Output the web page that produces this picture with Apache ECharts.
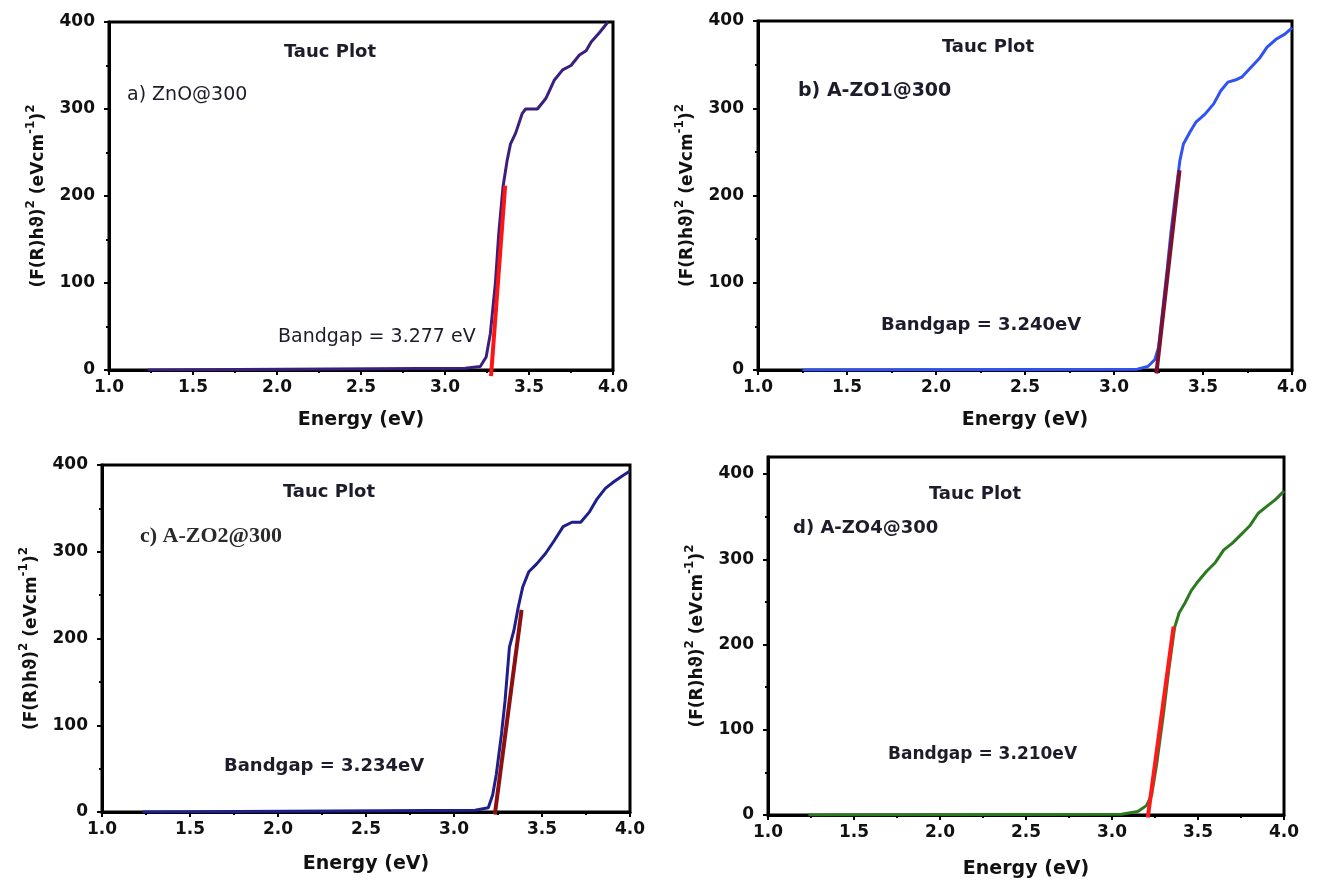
<!DOCTYPE html>
<html>
<head>
<meta charset="utf-8">
<title>Tauc Plots</title>
<script src="https://cdn.jsdelivr.net/npm/echarts@6/dist/echarts.min.js"></script>
<style>
  html, body { margin: 0; padding: 0; background: #fff; }
  #chart { width: 1318px; height: 881px; }
</style>
</head>
<body>
<div id="chart"></div>
<script>
// ---- Data: (F(R)hv)^2 vs photon energy for the four samples ----
const sampleNames = ['a) ZnO@300', 'b) A-ZO1@300', 'c) A-ZO2@300', 'd) A-ZO4@300'];
const bandgaps = [3.277, 3.240, 3.234, 3.210];
const bandgapTexts = ['Bandgap = 3.277 eV', 'Bandgap = 3.240eV', 'Bandgap = 3.234eV', 'Bandgap = 3.210eV'];
const xTicks = [1.0, 1.5, 2.0, 2.5, 3.0, 3.5, 4.0];
const yTicks = [0, 100, 200, 300, 400];

const energyA = [1.23, 3.12, 3.21, 3.245, 3.27, 3.30, 3.32, 3.345, 3.37, 3.39, 3.42, 3.46, 3.48, 3.55, 3.60, 3.65, 3.70, 3.75, 3.80, 3.84, 3.87, 3.92, 3.97];
const taucA   = [0, 2, 4, 15, 42, 100, 157, 210, 241, 260, 272, 295, 300, 300, 312, 333, 345, 350, 362, 367, 377, 388, 400];

const energyB = [1.25, 3.13, 3.19, 3.23, 3.25, 3.27, 3.30, 3.32, 3.345, 3.37, 3.39, 3.43, 3.46, 3.51, 3.56, 3.60, 3.64, 3.69, 3.72, 3.77, 3.82, 3.86, 3.91, 3.96, 4.0];
const taucB   = [0, 1, 4, 12, 26, 62, 118, 158, 200, 240, 259, 274, 284, 293, 305, 320, 330, 333, 336, 347, 358, 370, 379, 385, 392];

const energyC = [1.23, 3.12, 3.195, 3.22, 3.24, 3.27, 3.29, 3.315, 3.34, 3.365, 3.39, 3.425, 3.47, 3.52, 3.57, 3.62, 3.67, 3.72, 3.77, 3.81, 3.86, 3.91, 3.96, 4.0];
const taucC   = [0, 2, 5, 20, 43, 90, 128, 190, 209, 236, 259, 277, 286, 298, 313, 329, 334, 334, 346, 360, 373, 381, 388, 393];

const energyD = [1.235, 3.055, 3.15, 3.20, 3.23, 3.26, 3.30, 3.33, 3.364, 3.39, 3.425, 3.46, 3.50, 3.55, 3.60, 3.65, 3.70, 3.75, 3.80, 3.85, 3.90, 3.95, 4.0];
const taucD   = [0, 1, 4, 11, 23, 60, 120, 170, 220, 237, 249, 263, 274, 286, 296, 311, 319, 329, 339, 354, 362, 370, 380];

// Linear fits of the absorption edge (x-intercept = bandgap)
const fitA = [[3.274, -7], [3.358, 212]];
const fitB = [[3.238, -4], [3.368, 229]];
const fitC = [[3.232, -3], [3.384, 233]];
const fitD = [[3.208, -3], [3.358, 221]];

// ---- Styling ----
const FONT = '"DejaVu Sans", "Liberation Sans", sans-serif';
const curveColors = ['#3b1f7c', '#3052f5', '#1e1e8c', '#2b7a1f'];
const fitColors = ['#ff1414', '#7c1030', '#8c1010', '#ff1a1a'];
const yMax = [400, 400, 400, 420];

const grids = [
  { left: 109, top: 22, width: 504, height: 348 },
  { left: 758, top: 21, width: 534, height: 349 },
  { left: 102, top: 465, width: 528, height: 347 },
  { left: 768, top: 457, width: 516, height: 358 }
];

const pairs = (xs, ys) => xs.map((x, i) => [x, ys[i]]);
const curves = [pairs(energyA, taucA), pairs(energyB, taucB), pairs(energyC, taucC), pairs(energyD, taucD)];
const fits = [fitA, fitB, fitC, fitD];

const yTitle = '{m|(F(R)h\u03D1)}{s|2}{m| (eVcm}{s|-1}{m|)}{s|2}';
const yTitleStyle = {
  rich: {
    m: { fontFamily: FONT, fontSize: 17, fontWeight: 'bold', color: '#111', lineHeight: 22, verticalAlign: 'bottom' },
    s: { fontFamily: FONT, fontSize: 12, fontWeight: 'bold', color: '#111', lineHeight: 12, verticalAlign: 'top' }
  }
};
const tickLabel = { fontFamily: FONT, fontSize: 17, fontWeight: 'bold', color: '#111' };

const xAxes = grids.map((g, i) => ({
  gridIndex: i,
  type: 'value',
  min: 1, max: 4, interval: 0.5,
  name: 'Energy (eV)',
  nameLocation: 'middle',
  nameGap: [41, 41, 43, 45][i],
  nameTextStyle: { fontFamily: FONT, fontSize: 19, fontWeight: 'bold', color: '#111' },
  axisLine: { show: true, lineStyle: { color: '#000', width: 3 } },
  axisTick: { show: true, inside: false, length: 5, lineStyle: { color: '#000', width: 2 } },
  minorTick: { show: true, splitNumber: 2, length: 3, lineStyle: { color: '#000', width: 2 } },
  axisLabel: Object.assign({ margin: 9, formatter: v => v.toFixed(1) }, tickLabel),
  splitLine: { show: false }
}));

const yAxes = [];
grids.forEach((g, i) => {
  const base = {
    gridIndex: i,
    type: 'value',
    min: 0, max: yMax[i],
    name: yTitle,
    nameLocation: 'middle',
    nameGap: 62,
    nameTextStyle: yTitleStyle,
    axisLine: { show: true, lineStyle: { color: '#000', width: 3 } },
    axisLabel: Object.assign({ margin: 14 }, tickLabel),
    splitLine: { show: false }
  };
  if (yMax[i] === 400) {
    base.interval = 100;
    base.axisTick = { show: true, inside: false, length: 5, lineStyle: { color: '#000', width: 2 } };
    base.minorTick = { show: true, splitNumber: 2, length: 3, lineStyle: { color: '#000', width: 2 } };
    yAxes.push(base);
  } else {
    base.axisTick = { show: true, inside: false, length: 5, customValues: yTicks, lineStyle: { color: '#000', width: 2 } };
    base.axisLabel.customValues = yTicks;
    base.minorTick = { show: false };
    yAxes.push(base);
    // half-step ticks for the taller panel
    yAxes.push({
      gridIndex: i, type: 'value', min: 0, max: yMax[i], position: 'left',
      axisLine: { show: false }, axisLabel: { show: false }, splitLine: { show: false },
      axisTick: { show: true, inside: false, length: 3, customValues: [50, 150, 250, 350], lineStyle: { color: '#000', width: 2 } }
    });
  }
});
const yIndexOf = [0, 1, 2, 3];

const series = [];
curves.forEach((data, i) => {
  series.push({
    type: 'line', xAxisIndex: i, yAxisIndex: yIndexOf[i], data,
    showSymbol: false, smooth: false,
    lineStyle: { color: curveColors[i], width: 3 }, z: 3
  });
  series.push({
    type: 'line', xAxisIndex: i, yAxisIndex: yIndexOf[i], data: fits[i],
    showSymbol: false, clip: false,
    lineStyle: { color: fitColors[i], width: 4 }, z: 4
  });
});

// Annotation text inside each panel
const annot = [
  { tauc: [330, 52], name: [127, 95], gap: [278, 337], nameFont: 'normal 19px ' + FONT, gapFont: 'normal 19px ' + FONT },
  { tauc: [988, 47], name: [798, 91], gap: [881, 325], nameFont: 'bold 19px ' + FONT, gapFont: 'bold 18px ' + FONT },
  { tauc: [329, 492], name: [140, 536], gap: [224, 766], nameFont: 'bold 22px "Liberation Serif", "DejaVu Serif", serif', gapFont: 'bold 18px ' + FONT },
  { tauc: [975, 494], name: [793, 528], gap: [888, 755], nameFont: 'bold 18px ' + FONT, gapFont: 'bold 17px ' + FONT }
];
const textColor = '#1c1c2a';
const graphic = [];
annot.forEach((a, i) => {
  graphic.push({ type: 'text', x: a.tauc[0], y: a.tauc[1], style: { text: 'Tauc Plot', font: 'bold 18px ' + FONT, fill: textColor, align: 'center', verticalAlign: 'middle' } });
  graphic.push({ type: 'text', x: a.name[0], y: a.name[1], style: { text: sampleNames[i], font: a.nameFont, fill: i === 2 ? '#2a2a2a' : textColor, align: 'left', verticalAlign: 'middle' } });
  graphic.push({ type: 'text', x: a.gap[0], y: a.gap[1], style: { text: bandgapTexts[i], font: a.gapFont, fill: textColor, align: 'left', verticalAlign: 'middle' } });
});

const chart = echarts.init(document.getElementById('chart'), null, { renderer: 'canvas' });
chart.setOption({
  backgroundColor: '#ffffff',
  animation: false,
  grid: grids.map(g => Object.assign({ show: true, borderColor: '#000', borderWidth: 3, backgroundColor: 'transparent', containLabel: false }, g)),
  xAxis: xAxes,
  yAxis: yAxes,
  series,
  graphic
});
</script>
</body>
</html>
